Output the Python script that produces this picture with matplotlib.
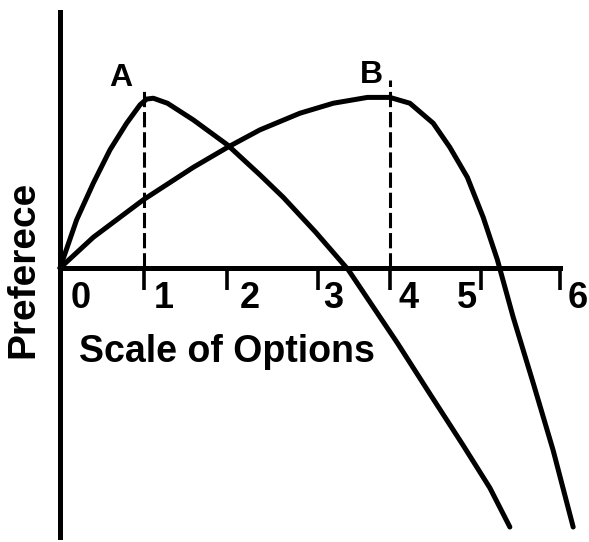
import matplotlib
matplotlib.use("Agg")
import matplotlib.pyplot as plt

# courbe A : preference en fonction de l'echelle d'options
a_x = [0.00, 0.20, 0.40, 0.60, 0.80, 0.96, 1.04, 1.12, 1.29, 1.60, 2.01, 2.40, 2.68, 3.07, 3.46, 4.05, 4.44, 4.84, 5.16, 5.40]
a_y = [0.00, 0.58, 1.02, 1.42, 1.74, 1.96, 2.03, 2.04, 1.98, 1.78, 1.48, 1.12, 0.85, 0.43, -0.02, -0.90, -1.51, -2.13, -2.64, -3.11]

# courbe B
b_x = [0.00, 0.40, 1.00, 1.60, 2.01, 2.40, 2.88, 3.28, 3.69, 3.96, 4.20, 4.48, 4.68, 4.89, 5.08, 5.25, 5.44, 5.68, 5.92, 6.16]
b_y = [0.00, 0.37, 0.82, 1.21, 1.45, 1.66, 1.86, 1.98, 2.05, 2.05, 1.98, 1.74, 1.45, 1.09, 0.61, 0.10, -0.59, -1.38, -2.19, -3.11]

# pics (lignes pointillees)
peak_x = [1.01, 3.96]
peak_top = [2.16, 2.26]
peak_names = ["A", "B"]
peak_label_x = [0.73, 3.74]
peak_label_y = [2.28, 2.32]

# graduations de l'axe horizontal
tick_pos = [1.01, 2.00, 3.10, 3.96, 5.05, 6.00]
tick_labels = ["0", "1", "2", "3", "4", "5", "6"]
label_pos = [0.25, 1.24, 2.28, 3.28, 4.18, 4.89, 6.21]

fig = plt.figure(figsize=(5.89, 5.42), dpi=100)
ax = fig.add_axes([0, 0, 1, 1])
ax.set_xlim(-0.72, 6.35)
ax.set_ylim(-3.29, 3.22)

ax.plot(a_x, a_y, color="black", lw=3.6, solid_capstyle="round", solid_joinstyle="round")
ax.plot(b_x, b_y, color="black", lw=3.6, solid_capstyle="round", solid_joinstyle="round")

for px, top, name, lx, ly in zip(peak_x, peak_top, peak_names, peak_label_x, peak_label_y):
    ax.plot([px, px], [0, top], color="black", lw=2.2, dashes=(5, 1.6))
    ax.text(lx, ly, name, fontsize=23, fontweight="bold", family="Liberation Sans",
            ha="center", va="center")

# axes en croix
ax.spines["top"].set_visible(False)
ax.spines["right"].set_visible(False)
ax.spines["left"].set_position(("data", 0))
ax.spines["bottom"].set_position(("data", 0))
ax.spines["left"].set_bounds(-3.23, 3.07)
ax.spines["bottom"].set_bounds(0, 6.0)
ax.spines["left"].set_linewidth(3.6)
ax.spines["bottom"].set_linewidth(3.6)
ax.set_yticks([])
ax.set_xticks(tick_pos)
ax.set_xticklabels([])
ax.tick_params(axis="x", direction="out", length=16, width=2.6, color="black")

for lx, lab in zip(label_pos, tick_labels):
    ax.text(lx, -0.36, lab, fontsize=26, fontweight="bold", family="Liberation Sans",
            ha="center", va="center")

ax.text(0.23, -1.13, "Scale of Options", fontsize=27, fontweight="bold",
        family="Liberation Sans", ha="left", va="baseline")
ax.text(-0.44, -0.02, "Preferece", fontsize=28, fontweight="bold",
        family="Liberation Sans", rotation=90, ha="center", va="center")

fig.savefig("out.png", dpi=100, facecolor="white")
